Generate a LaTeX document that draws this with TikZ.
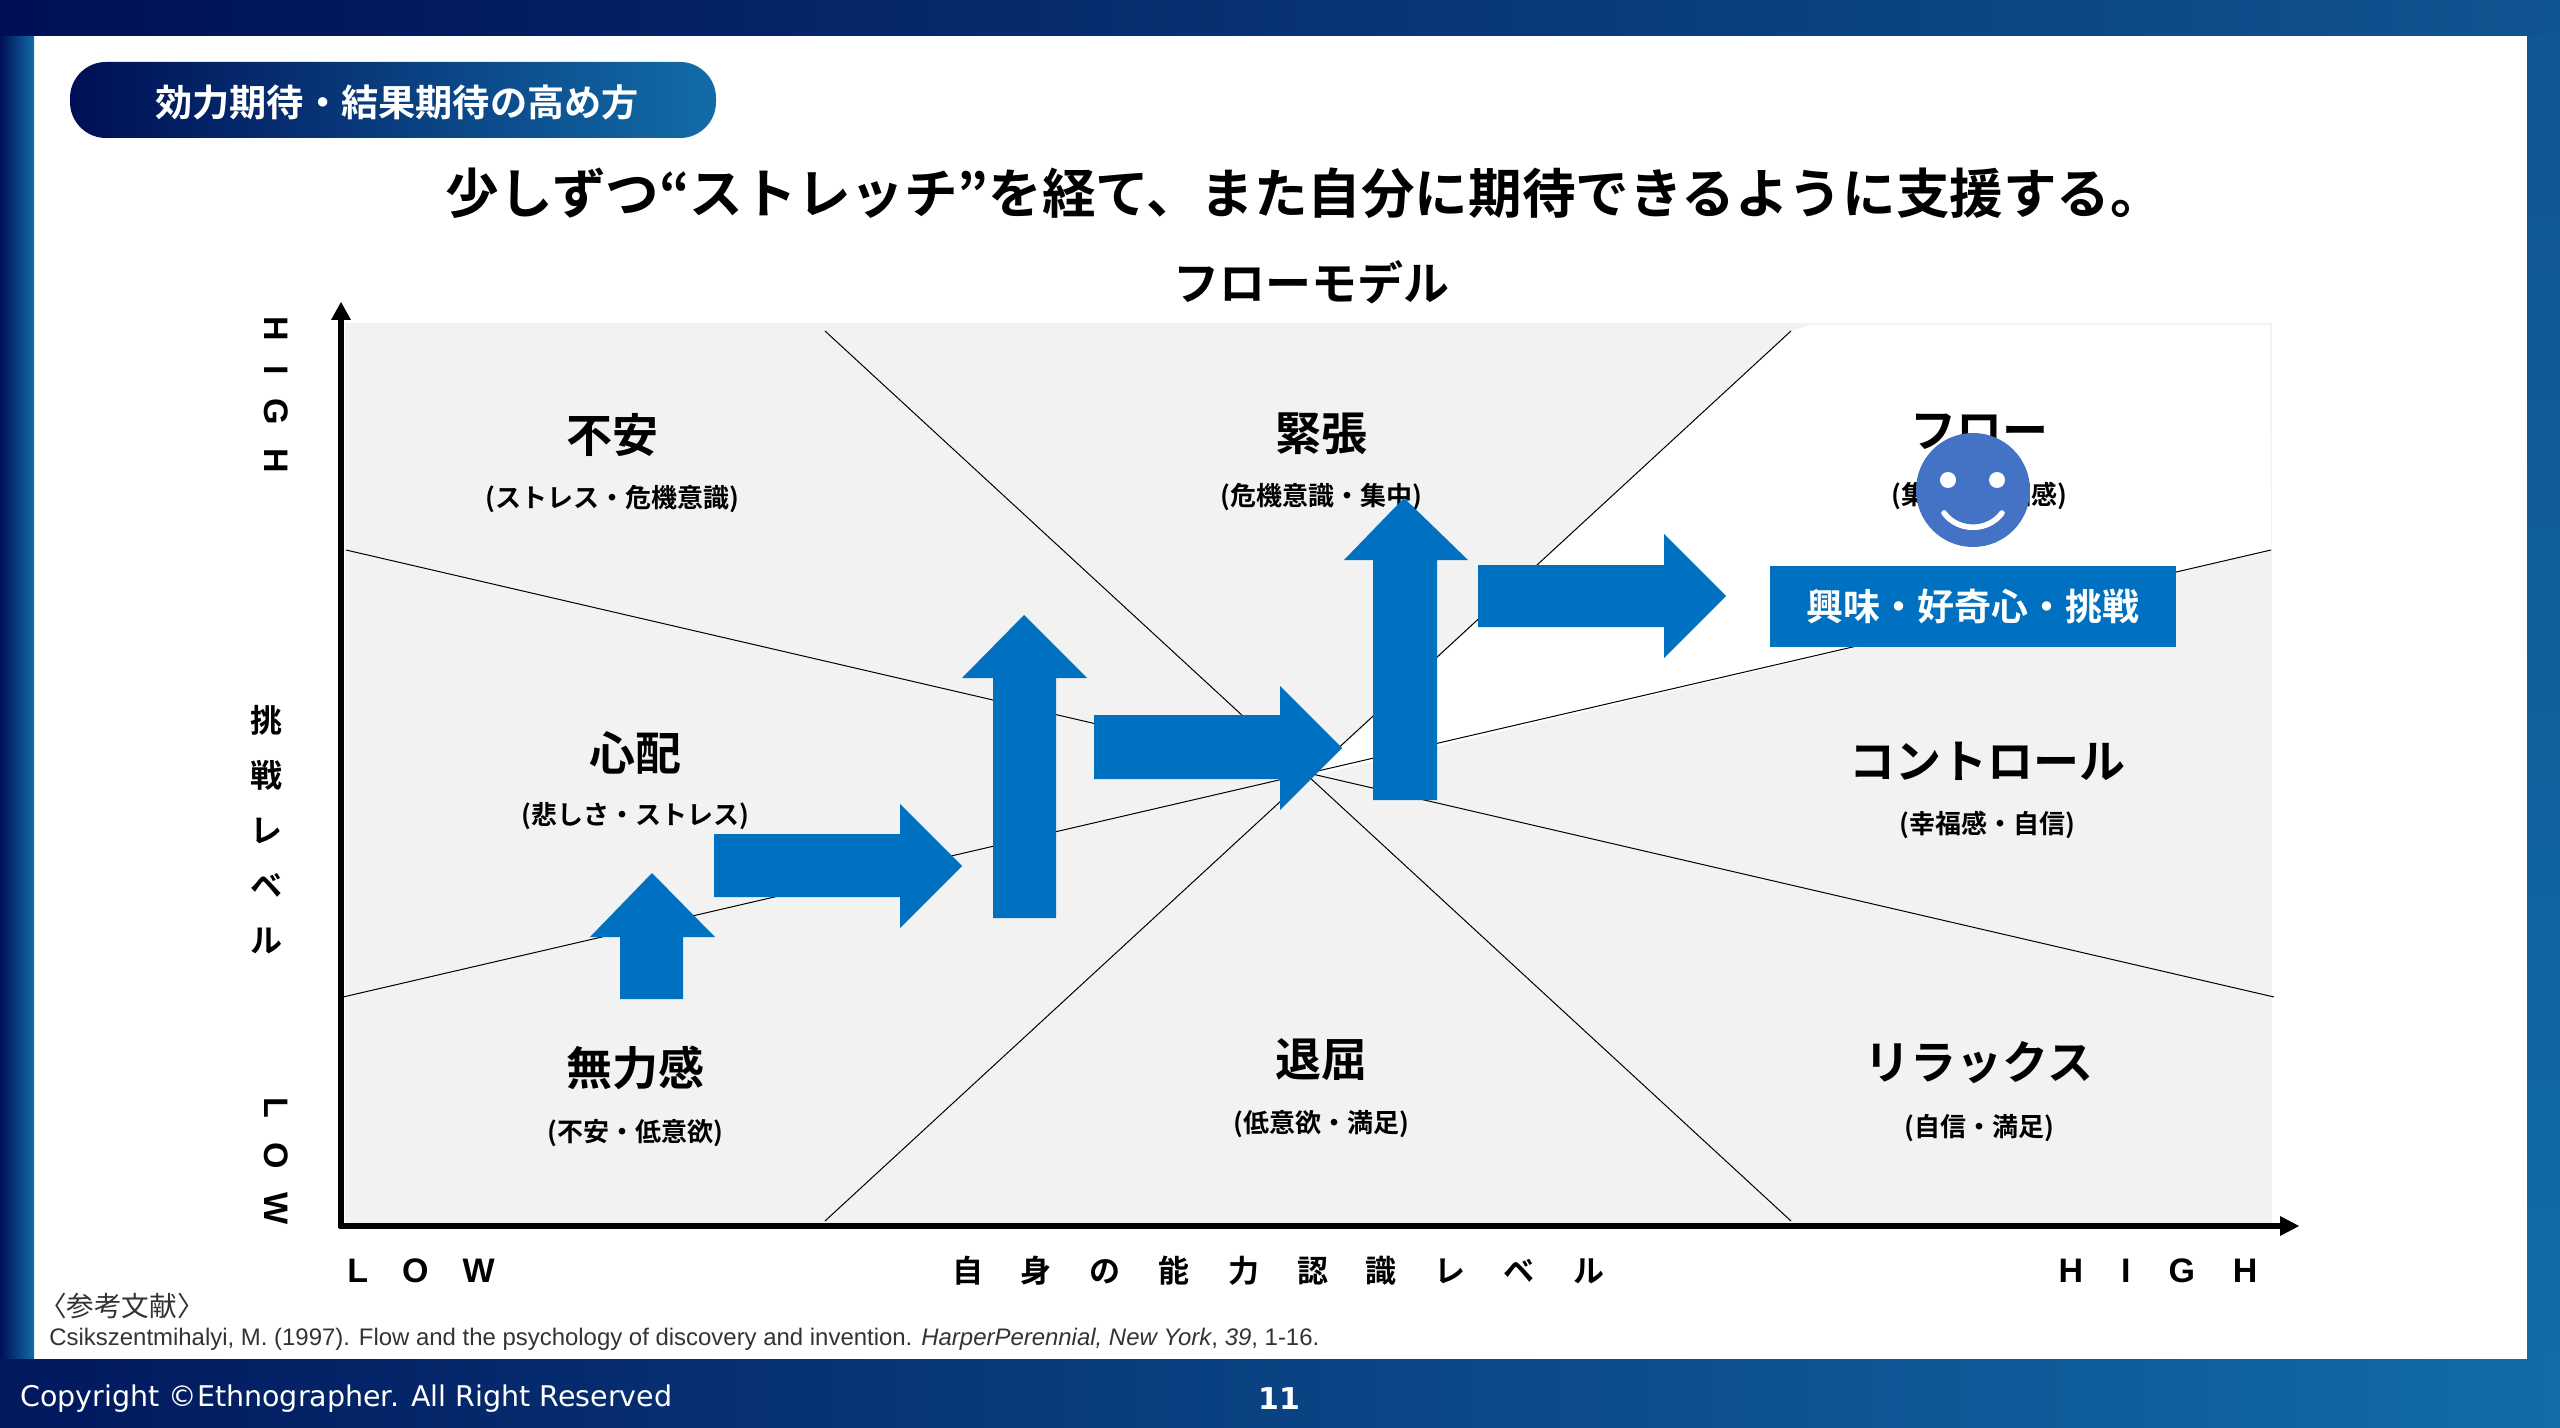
\documentclass[tikz,border=0pt]{standalone}
\usepackage{fontspec}
\setmainfont{Noto Sans CJK JP}[BoldFont=* Bold]
\newfontfamily\latn{Liberation Sans}
\newfontfamily\foot{DejaVu Sans}
\newcommand{\fs}[1]{\fontsize{#1}{#1}\selectfont}
\definecolor{navy}{RGB}{0,15,85}
\definecolor{steel}{RGB}{18,108,168}
\definecolor{steeltop}{RGB}{15,85,145}
\definecolor{block}{RGB}{0,112,192}
\definecolor{face}{RGB}{68,114,196}
\definecolor{panel}{RGB}{242,242,242}
\tikzset{
  x=0.5pt,y=-0.5pt,
  big/.style={font=\bfseries\fs{23}},
  sub/.style={font=\bfseries\fs{13}},
  axislab/.style={font=\latn\bfseries\fs{17}},
  axiskana/.style={font=\bfseries\fs{15.5}},
  blockarrow/.style={fill=block,draw=none},
  divider/.style={draw=black,line width=0.5pt},
  axisline/.style={draw=black,line width=2.6pt},
  axishead/.style={fill=black,draw=none},
}
\begin{document}
\begin{tikzpicture}
\useasboundingbox (0,0) rectangle (2560,1428);
\fill[white] (0,0) rectangle (2560,1428);
% frame
\shade[left color=navy,right color=steel] (0,0) rectangle (34,1428);
\shade[top color=steeltop,bottom color=steel] (2527,0) rectangle (2560,1428);
\shade[left color=navy,right color=steeltop] (0,0) rectangle (2560,36);
\shade[left color=navy!90!steel,right color=steel] (0,1359) rectangle (2560,1428);
% pill
\shade[left color=navy,right color=steel,rounded corners=18pt] (70,62) rectangle (716,138);
\node[font=\bfseries\fs{18.6},text=white] (pilltitle) at (397,102) {効力期待・結果期待の高め方};
\node[font=\bfseries\fs{26.8}] (headline) at (1305,193) {少しずつ“ストレッチ”を経て、また自分に期待できるように支援する。};
\node[big] (modeltitle) at (1311,282) {フローモデル};
% panel
\fill[panel] (345,323) rectangle (2272,1224);
\coordinate (c) at (1311,776);
\fill[white] (c) -- (1791,331) -- (1810,325) -- (2270,325) -- (2271,550) -- cycle;
\coordinate (a1) at (825,331); \coordinate (a2) at (1791,1221);
\coordinate (b1) at (1791,331); \coordinate (b2) at (825,1221);
\coordinate (d1) at (346,550); \coordinate (d2) at (2274,997);
\coordinate (e1) at (343,997); \coordinate (e2) at (2271,550);
\draw[divider] (a1) -- (a2);
\draw[divider] (b1) -- (b2);
\draw[divider] (d1) -- (d2);
\draw[divider] (e1) -- (e2);
% axes
\coordinate (o) at (341,1226);
\coordinate (yt) at (341,318);
\coordinate (xt) at (2284,1226);
\draw[axisline] (341,1228) -- (yt);
\draw[axisline] (339,1226) -- (xt);
\fill[axishead] (341,302) -- (351,320) -- (331,320) -- cycle;
\fill[axishead] (2299,1226) -- (2280,1216) -- (2280,1236) -- cycle;
% quadrant labels
\node[big] (n1) at (612,435) {不安};
\node[sub] (n1s) at (612,499) {(ストレス・危機意識)};
\node[big] (n2) at (1321,434) {緊張};
\node[sub] (n2s) at (1321,497) {(危機意識・集中)};
\node[big] (n3) at (1979,432) {フロー};
\node[sub] (n3s) at (1979,496) {(集中・幸福感)};
\node[big] (n4) at (635,753) {心配};
\node[sub] (n4s) at (635,816) {(悲しさ・ストレス)};
\node[big] (n5) at (1987,761) {コントロール};
\node[sub] (n5s) at (1987,825) {(幸福感・自信)};
\node[big] (n6) at (635,1068) {無力感};
\node[sub] (n6s) at (635,1133) {(不安・低意欲)};
\node[big] (n7) at (1321,1060) {退屈};
\node[sub] (n7s) at (1321,1124) {(低意欲・満足)};
\node[big] (n8) at (1979,1063) {リラックス};
\node[sub] (n8s) at (1979,1128) {(自信・満足)};
% block arrows
\fill[blockarrow] (652,873) -- (715,937) -- (683,937) -- (683,999) -- (620,999) -- (620,937) -- (590,937) -- cycle;
\fill[blockarrow] (714,834) -- (900,834) -- (900,804) -- (962,866) -- (900,928) -- (900,897) -- (714,897) -- cycle;
\fill[blockarrow] (1024,615) -- (1087,678) -- (1056,678) -- (1056,918) -- (993,918) -- (993,678) -- (962,678) -- cycle;
\fill[blockarrow] (1094,715) -- (1280,715) -- (1280,686) -- (1342,748) -- (1280,810) -- (1280,779) -- (1094,779) -- cycle;
\fill[blockarrow] (1404,498) -- (1468,560) -- (1437,560) -- (1437,800) -- (1373,800) -- (1373,560) -- (1344,560) -- cycle;
\fill[blockarrow] (1478,565) -- (1664,565) -- (1664,534) -- (1726,596) -- (1664,658) -- (1664,627) -- (1478,627) -- cycle;
% interest box
\node[fill=block,minimum width=203pt,minimum height=40.5pt,inner sep=0pt,text=white,font=\bfseries\fs{18.5}] (interest) at (1973,606.5) {\raisebox{-1pt}{興味・好奇心・挑戦}};
% face
\fill[face] (1973,490) ellipse [x radius=57,y radius=57];
\fill[white] (1948,480) circle [radius=8];
\fill[white] (1997,480) circle [radius=8];
\draw[white,line width=2.8pt,line cap=round] (1944,513) .. controls (1958,532) and (1988,532) .. (2002,513);
% axis texts
\node[axislab] (xlow) at (421,1271) {L\hspace{17pt}O\hspace{17pt}W};
\node[axislab] (xhigh) at (2158,1271) {H\hspace{19pt}I\hspace{19pt}G\hspace{19pt}H};
\node[axiskana] (xlab) at (1278,1271) {自\hspace{19pt}身\hspace{19pt}の\hspace{19pt}能\hspace{19pt}力\hspace{19pt}認\hspace{19pt}識\hspace{19pt}レ\hspace{19pt}ベ\hspace{19pt}ル};
\node[axislab,rotate=-90] (yhigh) at (276,395) {H\hspace{12pt}I\hspace{12pt}G\hspace{12pt}H};
\node[axislab,rotate=-90] (ylow) at (276,1161) {L\hspace{12pt}O\hspace{12pt}W};
\node[font=\bfseries\fontsize{16}{27.5}\selectfont,align=center,inner sep=0pt] (ylab) at (266,830) {挑\\戦\\レ\\ベ\\ル};
% reference
\node[font=\fs{13.8},text=black!80,inner sep=0pt] (refhead) at (122,1306) {〈参考文献〉};
\node[anchor=west,font=\latn\fs{11.97},text=black!80,inner sep=0pt] (cite) at (49,1339) {Csikszentmihalyi, M. (1997). Flow and the psychology of discovery and invention. \textit{HarperPerennial, New York}, \textit{39}, 1-16.};
% footer
\node[anchor=west,font=\foot\fs{14.25},text=white,inner sep=0pt] (copy) at (20,1399) {Copyright ©Ethnographer. All Right Reserved};
\node[font=\foot\bfseries\fs{15},text=white] (page) at (1279,1399) {11};
\end{tikzpicture}
\end{document}
